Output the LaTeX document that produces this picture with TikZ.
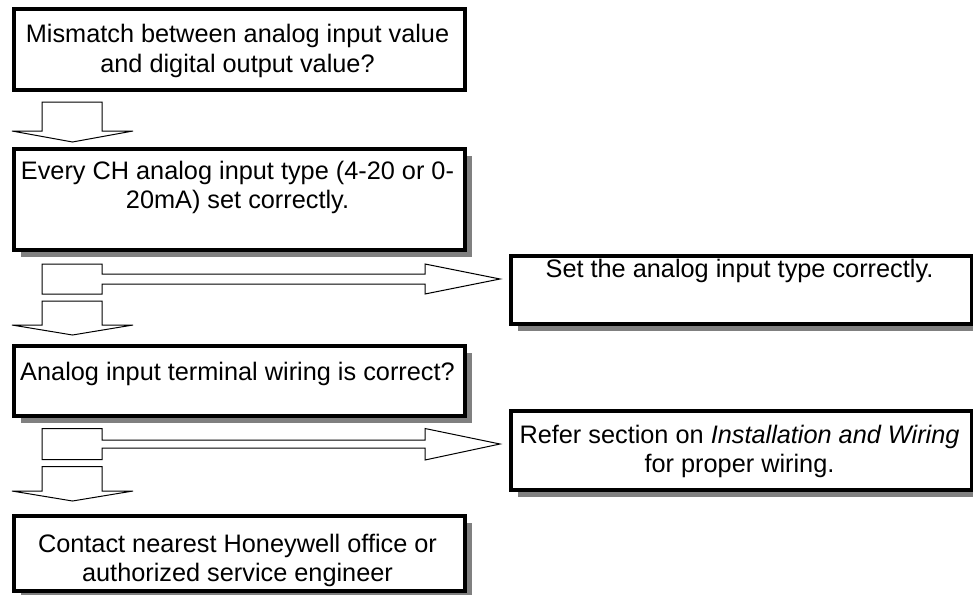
\documentclass[tikz,border=0pt]{standalone}
\usepackage{fontspec}
\setmainfont{Liberation Sans}
\usetikzlibrary{calc,shadows}
\begin{document}
\begin{tikzpicture}[x=1pt,y=-1pt,
  box/.style={draw=black,line width=4pt,fill=white,rectangle,inner sep=0pt,anchor=north west},
  shbox/.style={box,drop shadow={shadow xshift=7pt,shadow yshift=-7pt,fill=black!50,opacity=1}},
  txt/.style={inner sep=0pt,anchor=base,align=center,font=\fontsize{25.3}{29}\selectfont},
  arr/.style={draw=black,line width=1pt,fill=white,line join=miter}]
\useasboundingbox (0,0) rectangle (973,594);
\fill[white] (0,0) rectangle (973,594);
% boxes
\node[box,minimum width=451pt,minimum height=81pt] (b1) at (12,7) {};
\node[shbox,minimum width=451pt,minimum height=101pt] (b2) at (12,147) {};
\node[shbox,minimum width=461pt,minimum height=68pt] (b3) at (509,254) {};
\node[shbox,minimum width=451pt,minimum height=70pt] (b4) at (12,344) {};
\node[shbox,minimum width=461pt,minimum height=79pt] (b5) at (509,409) {};
\node[shbox,minimum width=451pt,minimum height=75pt] (b6) at (12,514) {};
% texts (base anchor = baseline of the last line)
\node[txt] (t1) at (237.5,72) {Mismatch between analog input value\\and digital output value?};
\node[txt] (t2) at (237.5,208) {Every CH analog input type (4-20 or 0-\\20mA) set correctly.};
\node[txt] (t3) at (739.5,277) {Set the analog input type correctly.};
\node[txt] (t4) at (237.5,380) {Analog input terminal wiring is correct?};
\node[txt] (t5) at (739.5,472) {Refer section on \textit{Installation and Wiring}\\for proper wiring.};
\node[txt] (t6) at (237.5,581) {Contact nearest Honeywell office or\\authorized service engineer};
% down arrow b1 -> b2
\coordinate (s1) at ($(b1.south west)+(30,10)$);
\coordinate (h1) at ($(b2.north west)+(0,-16)$);
\coordinate (p1) at ($(b2.north west)+(60.5,-5)$);
\draw[arr] (s1) -- ++(60,0) coordinate (s1r) -- (s1r |- h1) -- ++(31,0) -- (p1) -- (h1) -- (s1 |- h1) -- cycle;
% branch arrow b2 -> b3
\coordinate (c1) at ($(b2.south west)+(30,27)$);
\coordinate (q1) at ([xshift=-9pt]c1 -| b3.west);
\draw[arr] ($(c1)+(0,-15)$) -- ++(60,0) -- ++(0,10) -- ($(q1)+(-75,-5)$) -- ++(0,-10) -- (q1)
  -- ++(-75,15) -- ++(0,-10) -- ($(c1)+(60,5)$) -- ++(0,10) -- ++(-60,0) -- cycle;
% down arrow -> b4
\coordinate (s2) at ($(c1)+(0,22)$);
\coordinate (h2) at ($(b4.north west)+(0,-19)$);
\coordinate (p2) at ($(b4.north west)+(60.5,-9)$);
\draw[arr] (s2) -- ++(60,0) coordinate (s2r) -- (s2r |- h2) -- ++(31,0) -- (p2) -- (h2) -- (s2 |- h2) -- cycle;
% branch arrow b4 -> b5
\coordinate (c2) at ($(b4.south west)+(30,26)$);
\coordinate (q2) at ([xshift=-9pt]c2 -| b5.west);
\draw[arr] ($(c2)+(0,-15.5)$) -- ++(60,0) -- ++(0,11.5) -- ($(q2)+(-75,-4)$) -- ++(0,-11.5) -- (q2)
  -- ++(-75,16) -- ++(0,-12) -- ($(c2)+(60,4)$) -- ++(0,11.5) -- ++(-60,0) -- cycle;
% down arrow -> b6
\coordinate (s3) at ($(c2)+(0,22.5)$);
\coordinate (h3) at ($(b6.north west)+(0,-23)$);
\coordinate (p3) at ($(b6.north west)+(60.5,-13)$);
\draw[arr] (s3) -- ++(60,0) coordinate (s3r) -- (s3r |- h3) -- ++(31,0) -- (p3) -- (h3) -- (s3 |- h3) -- cycle;
\end{tikzpicture}
\end{document}
